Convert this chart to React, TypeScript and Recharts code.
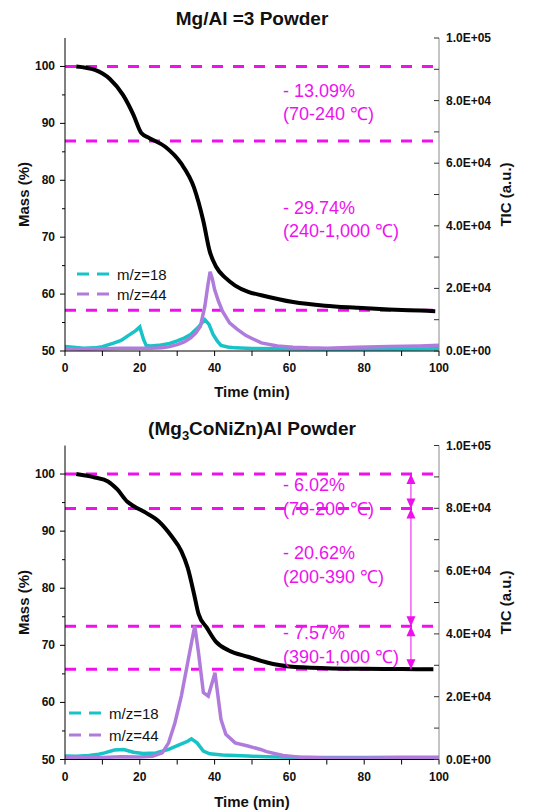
import React from 'react'
import { ComposedChart, Line, XAxis, YAxis, ReferenceLine, ReferenceDot, Label } from 'recharts'

const FONT = 'Arial, "Liberation Sans", Helvetica, sans-serif'
const MAGENTA = '#ee11ee'
const CYAN = '#17c3c7'
const PURPLE = '#b07cdc'

const timeTicks = [0, 10, 20, 30, 40, 50, 60, 70, 80, 90, 100]
const massTicks = [50, 55, 60, 65, 70, 75, 80, 85, 90, 95, 100]
const ticTicks = [0, 10000, 20000, 30000, 40000, 50000, 60000, 70000, 80000, 90000, 100000]

// Mg/Al = 3 powder
const topMassTime = [3, 8, 12, 15.5, 18.3, 20.4, 22.6, 26.8, 31, 34.5, 37, 38.7, 40.4, 43, 45.5, 49, 52.5, 61, 69.5, 78, 86.6, 95, 99]
const topMassValue = [100, 99.4, 97.8, 95, 91.5, 88.3, 87.4, 85.9, 83, 78.7, 72.8, 67.5, 64.8, 62.8, 61.5, 60.4, 59.8, 58.6, 57.95, 57.6, 57.3, 57.1, 57.0]
const topWaterTime = [0, 5, 8, 10, 13, 15, 17.4, 19, 20, 21, 21.7, 23, 25, 28, 30, 32, 33.6, 35.7, 37.4, 38.5, 39.6, 40.7, 41.7, 43.5, 45.5, 50, 60, 70, 80, 90, 100]
const topWaterValue = [1400, 900, 1000, 1400, 2500, 3400, 5300, 6600, 7700, 3700, 1800, 1600, 1800, 2400, 3200, 4200, 5300, 7700, 10000, 8500, 5300, 3200, 1800, 1300, 1000, 800, 700, 650, 650, 650, 700]
const topCo2Time = [0, 5, 10, 15, 20, 23, 26, 28, 30.2, 32, 33.6, 35, 36.2, 37.4, 38.2, 38.8, 39.4, 40, 41, 42.1, 44, 46, 48.3, 50, 52.5, 56.8, 61, 65, 70, 78, 86.6, 95, 100]
const topCo2Value = [700, 600, 700, 900, 900, 900, 1000, 1400, 2100, 3000, 4200, 5800, 7900, 14300, 21000, 25300, 23000, 19600, 16000, 12700, 9000, 7000, 5000, 4000, 2600, 1600, 1200, 1000, 900, 1200, 1400, 1600, 1800]
const topSteps = [100, 86.91, 57.17]
const topLosses = [['- 13.09%', '(70-240 \u2103)'], ['- 29.74%', '(240-1,000 \u2103)']]

// (Mg3CoNiZn)Al powder
const botMassTime = [3, 8, 11.5, 14, 16.6, 18.3, 21.7, 25.1, 28.5, 31.1, 32.8, 34.5, 35.7, 37.9, 40.4, 43.8, 48.9, 54, 60, 70, 80, 90, 98.5]
const botMassValue = [100, 99.4, 98.7, 97.3, 95.2, 94.4, 93.2, 91.7, 89.1, 86.5, 83.6, 79, 75.5, 73.1, 70.6, 69.1, 68.0, 67.0, 66.3, 66.0, 65.9, 65.85, 65.8]
const botWaterTime = [0, 3, 6.4, 9, 10.6, 13.2, 15.7, 18.3, 20.9, 24.3, 27.7, 30.2, 32.8, 33.8, 35.3, 37, 38.7, 42.1, 48.9, 54, 60, 70, 80, 90, 100]
const botWaterValue = [1100, 1000, 1300, 1700, 2100, 3000, 3200, 2300, 1900, 2100, 3200, 4500, 5800, 6600, 5300, 2700, 1800, 1400, 1100, 850, 700, 650, 650, 700, 700]
const botCo2Time = [0, 10, 15, 20, 23.4, 26, 27.7, 29.4, 31.1, 32.8, 34, 34.7, 35.7, 37, 38.3, 39.6, 40.1, 40.9, 41.7, 43, 45.5, 48.9, 52.3, 53.9, 58.3, 62.8, 70, 80, 90, 100]
const botCo2Value = [700, 600, 850, 800, 1060, 2100, 5300, 11700, 20200, 30800, 38300, 42500, 34000, 21300, 20200, 25500, 27600, 20200, 12800, 8000, 5300, 4300, 3200, 2500, 1300, 750, 500, 500, 550, 550]
const botSteps = [100, 93.98, 73.36, 65.79]
const botLosses = [['- 6.02%', '(70-200 \u2103)'], ['- 20.62%', '(200-390 \u2103)'], ['- 7.57%', '(390-1,000 \u2103)']]
const botArrowTime = 92.5

const zip = (t: number[], v: number[]) => t.map((x, i) => ({ t: x, v: v[i] }))

const sci = (v: number) => {
  if (v === 0) return '0.0E+00'
  const e = Math.floor(Math.log10(v) + 1e-9)
  return `${(v / 10 ** e).toFixed(1)}E+${String(e).padStart(2, '0')}`
}

const tickText = { fontFamily: FONT, fontSize: 12, fontWeight: 700, fill: '#111' }

const BottomTick = ({ x, y, payload }: any) => (
  <g>
    <line x1={x} x2={x} y1={y} y2={y + 5} stroke="#000" />
    {payload.value % 20 === 0 && (
      <text x={x} y={y + 21} textAnchor="middle" {...tickText}>{payload.value}</text>
    )}
  </g>
)

const TopTick = ({ x, y }: any) => <line x1={x} x2={x} y1={y} y2={y + 5} stroke="#000" />

const MassTick = ({ x, y, payload }: any) => {
  const major = payload.value % 10 === 0
  return (
    <g>
      <line x1={x - (major ? 5 : 3)} x2={x} y1={y} y2={y} stroke="#000" />
      {major && (
        <text x={x - 10} y={y + 4} textAnchor="end" {...tickText}>{payload.value}</text>
      )}
    </g>
  )
}

const TicTick = ({ x, y, payload }: any) => (
  <g>
    <line x1={x - 5} x2={x} y1={y} y2={y} stroke="#333" />
    {payload.value % 20000 === 0 && (
      <text x={x + 7} y={y + 4} textAnchor="start" {...tickText}>{sci(payload.value)}</text>
    )}
  </g>
)

const ArrowHead = ({ cx, cy, dir }: any) => {
  const by = cy + dir * 10
  return <polygon points={`${cx},${cy} ${cx - 4.5},${by} ${cx + 4.5},${by}`} fill={MAGENTA} />
}

const axisLabel = { fontFamily: FONT, fontSize: 15, fontWeight: 700, fill: '#111', textAnchor: 'middle' as const }

function Panel({ top, title, titleTop, mass, water, co2, steps, losses, lossTops, lineHeight, arrowTime, marginTop, axisHeight, labelOffset, legendLeft, legendTop, legendGap }: any) {
  return (
    <div style={{ position: 'absolute', left: 0, top, width: 547, height: 406 }}>
      <ComposedChart width={547} height={406} margin={{ top: marginTop, right: 0, bottom: 0, left: 0 }}>
        <XAxis xAxisId="b" type="number" dataKey="t" domain={[0, 100]} ticks={timeTicks} interval={0}
          allowDataOverflow height={axisHeight} tickSize={0} tickMargin={0} tickLine={false}
          axisLine={{ stroke: '#000' }} tick={<BottomTick />}>
          <Label value="Time (min)" position="insideBottom" offset={labelOffset} style={axisLabel} />
        </XAxis>
        <XAxis xAxisId="top" orientation="top" type="number" dataKey="t" domain={[0, 100]} ticks={timeTicks}
          interval={0} allowDataOverflow height={0} tickSize={0} tickMargin={0} tickLine={false}
          axisLine={{ stroke: '#000' }} tick={<TopTick />} />
        <YAxis yAxisId="mass" type="number" domain={[50, 105]} ticks={massTicks} interval={0} allowDataOverflow
          width={65} tickSize={0} tickMargin={0} tickLine={false} axisLine={{ stroke: '#000' }} tick={<MassTick />}>
          <Label value="Mass (%)" angle={-90} position="insideLeft" offset={24} style={axisLabel} />
        </YAxis>
        <YAxis yAxisId="tic" orientation="right" type="number" domain={[0, 100000]} ticks={ticTicks} interval={0}
          allowDataOverflow width={108} tickSize={0} tickMargin={0} tickLine={false}
          axisLine={{ stroke: '#8a8a8a' }} tick={<TicTick />}>
          <Label value="TIC (a.u.)" angle={-90} position="insideRight" offset={41} style={axisLabel} />
        </YAxis>
        {steps.map((s: number) => (
          <ReferenceLine key={s} xAxisId="b" yAxisId="mass" y={s} stroke={MAGENTA} strokeWidth={3} strokeDasharray="11 10" />
        ))}
        <Line data={water} xAxisId="b" yAxisId="tic" dataKey="v" type="linear" stroke={CYAN} strokeWidth={3.5} dot={false} isAnimationActive={false} />
        <Line data={co2} xAxisId="b" yAxisId="tic" dataKey="v" type="linear" stroke={PURPLE} strokeWidth={3.5} dot={false} isAnimationActive={false} />
        <Line data={mass} xAxisId="b" yAxisId="mass" dataKey="v" type="monotone" stroke="#000" strokeWidth={4} dot={false} isAnimationActive={false} />
        {arrowTime !== undefined && (
          <ReferenceLine xAxisId="b" yAxisId="mass" segment={[{ x: arrowTime, y: steps[0] }, { x: arrowTime, y: steps[steps.length - 1] }]} stroke={MAGENTA} strokeWidth={1} />
        )}
        {arrowTime !== undefined && steps.slice(0, -1).map((s: number, i: number) => (
          <ReferenceDot key={'u' + i} xAxisId="b" yAxisId="mass" x={arrowTime} y={s} shape={(p: any) => <ArrowHead {...p} dir={1} />} />
        ))}
        {arrowTime !== undefined && steps.slice(1).map((s: number, i: number) => (
          <ReferenceDot key={'d' + i} xAxisId="b" yAxisId="mass" x={arrowTime} y={s} shape={(p: any) => <ArrowHead {...p} dir={-1} />} />
        ))}
      </ComposedChart>
      <div style={{ position: 'absolute', left: 0, width: 504, top: titleTop, textAlign: 'center', fontFamily: FONT, fontSize: 19, fontWeight: 700, lineHeight: '22px', color: '#111' }}>
        {title}
      </div>
      {losses.map((l: string[], i: number) => (
        <div key={i} style={{ position: 'absolute', left: 283, top: lossTops[i], fontFamily: FONT, fontSize: 18, lineHeight: lineHeight + 'px', color: MAGENTA, whiteSpace: 'nowrap' }}>
          <div>{l[0]}</div>
          <div>{l[1]}</div>
        </div>
      ))}
      {[['m/z=18', CYAN], ['m/z=44', PURPLE]].map(([name, color], i) => (
        <div key={name} style={{ position: 'absolute', left: legendLeft, top: legendTop + i * legendGap - 10, height: 20, display: 'flex', alignItems: 'center', fontFamily: FONT, fontSize: 15, color: '#111' }}>
          <svg width={32} height={6} style={{ marginRight: 8 }}>
            <line x1={0} x2={32} y1={3} y2={3} stroke={color} strokeWidth={3} strokeDasharray="12 8" />
          </svg>
          {name}
        </div>
      ))}
    </div>
  )
}

export default function App() {
  return (
    <div style={{ position: 'absolute', left: 0, top: 0, width: 547, height: 812, background: '#fff' }}>
      <Panel top={0} title="Mg/Al =3 Powder" titleTop={8}
        mass={zip(topMassTime, topMassValue)} water={zip(topWaterTime, topWaterValue)} co2={zip(topCo2Time, topCo2Value)}
        steps={topSteps} losses={topLosses} lossTops={[80, 197]} lineHeight={23}
        marginTop={38} axisHeight={55} labelOffset={9} legendLeft={77} legendTop={274} legendGap={20} />
      <Panel top={406} title={<span>(Mg<sub style={{ fontSize: 13 }}>3</sub>CoNiZn)Al Powder</span>} titleTop={12}
        mass={zip(botMassTime, botMassValue)} water={zip(botWaterTime, botWaterValue)} co2={zip(botCo2Time, botCo2Value)}
        steps={botSteps} losses={botLosses} lossTops={[67, 135, 215]} lineHeight={24} arrowTime={botArrowTime}
        marginTop={39.5} axisHeight={52.5} labelOffset={5} legendLeft={69} legendTop={307} legendGap={22} />
    </div>
  )
}
